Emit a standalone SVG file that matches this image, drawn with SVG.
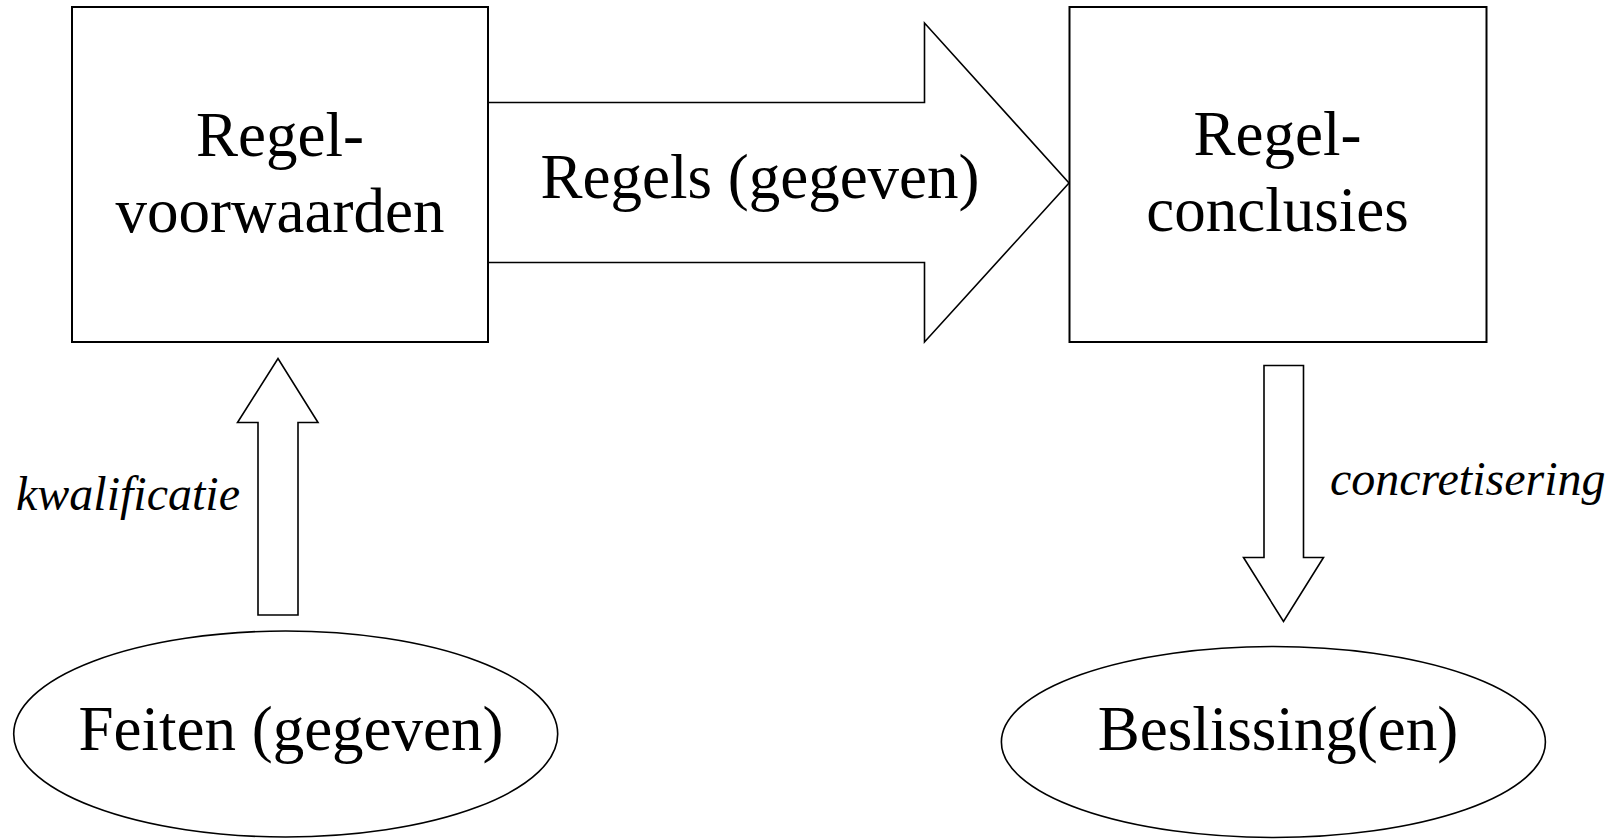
<svg xmlns="http://www.w3.org/2000/svg" width="1619" height="839" viewBox="0 0 1619 839">
<style>
.box{fill:#fff;stroke:#000;stroke-width:2}
.arr{fill:#fff;stroke:#000;stroke-width:1.6;stroke-linejoin:miter}
.ell{fill:#fff;stroke:#000;stroke-width:1.6}
.t{font-family:"Liberation Serif","Times New Roman",serif;font-size:63px;fill:#000;text-anchor:middle}
.it{font-family:"Liberation Serif","Times New Roman",serif;font-size:48px;font-style:italic;fill:#000}
</style>
<rect width="1619" height="839" fill="#fff"/>
<g id="connectors">
  <g id="arrow-regels">
    <polygon class="arr" points="488,102.5 924.5,102.5 924.5,23 1069,183 924.5,342 924.5,262.5 488,262.5"/>
    <text class="t" x="760" y="198">Regels (gegeven)</text>
  </g>
  <g id="arrow-kwalificatie">
    <polygon class="arr" points="258,615 258,422.5 237.5,422.5 278,358.5 318,422.5 298,422.5 298,615"/>
    <text class="it" x="16" y="510">kwalificatie</text>
  </g>
  <g id="arrow-concretisering">
    <polygon class="arr" points="1264,365.5 1303.5,365.5 1303.5,557.5 1323.5,557.5 1283.5,621.5 1243.5,557.5 1264,557.5"/>
    <text class="it" x="1330" y="495">concretisering</text>
  </g>
</g>
<g id="node-voorwaarden">
  <rect class="box" x="72" y="7" width="416" height="335"/>
  <text class="t" x="280" y="156">Regel-</text>
  <text class="t" x="280" y="232">voorwaarden</text>
</g>
<g id="node-conclusies">
  <rect class="box" x="1069.5" y="7" width="417" height="335"/>
  <text class="t" x="1277.5" y="155">Regel-</text>
  <text class="t" x="1277.5" y="231">conclusies</text>
</g>
<g id="node-feiten">
  <ellipse class="ell" cx="285.7" cy="734" rx="272" ry="103"/>
  <text class="t" x="291" y="750">Feiten (gegeven)</text>
</g>
<g id="node-beslissing">
  <ellipse class="ell" cx="1273.4" cy="742" rx="272" ry="95.5"/>
  <text class="t" x="1278" y="750">Beslissing(en)</text>
</g>
</svg>
